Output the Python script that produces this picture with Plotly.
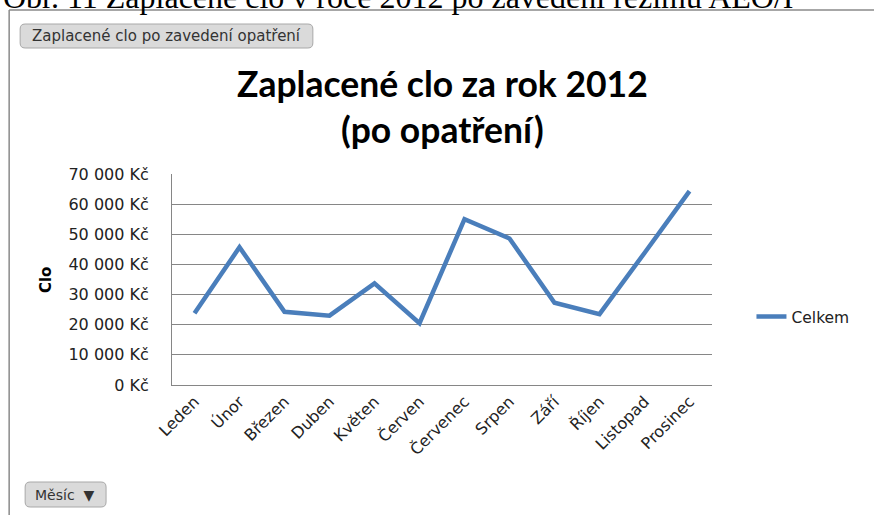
import plotly.graph_objects as go

months = ["Leden", "Únor", "Březen", "Duben", "Květen", "Červen",
          "Červenec", "Srpen", "Září", "Říjen", "Listopad", "Prosinec"]
clo = [23800, 45700, 24300, 23000, 33700, 20500,
       55000, 48600, 27300, 23500, 43800, 64300]
y_tickvals = [0, 10000, 20000, 30000, 40000, 50000, 60000, 70000]
y_ticktext = ["0 Kč", "10 000 Kč", "20 000 Kč", "30 000 Kč",
              "40 000 Kč", "50 000 Kč", "60 000 Kč", "70 000 Kč"]
series_name = "Celkem"
title_text = "Zaplacené clo za rok 2012<br>(po opatření)"
caption_text = "Obr. 11 Zaplacené clo v roce 2012 po zavedení režimu AEO/I"

W, H = 874, 515
L, R, T, B = 172, 712.5, 174, 385


def px(x):
    return (x - L) / (R - L)


def py(y):
    return (B - y) / (B - T)


def rrect(x0, y0, x1, y1, r):
    pts = [
        f"M{px(x0 + r)},{py(y0)}",
        f"L{px(x1 - r)},{py(y0)}",
        f"Q{px(x1)},{py(y0)} {px(x1)},{py(y0 + r)}",
        f"L{px(x1)},{py(y1 - r)}",
        f"Q{px(x1)},{py(y1)} {px(x1 - r)},{py(y1)}",
        f"L{px(x0 + r)},{py(y1)}",
        f"Q{px(x0)},{py(y1)} {px(x0)},{py(y1 - r)}",
        f"L{px(x0)},{py(y0 + r)}",
        f"Q{px(x0)},{py(y0)} {px(x0 + r)},{py(y0)}",
        "Z",
    ]
    return " ".join(pts)


fig = go.Figure()
fig.add_trace(go.Scatter(
    x=months, y=clo, mode="lines", name=series_name,
    line=dict(color="#4A7EBB", width=4.5),
))

font_main = "DejaVu Sans"
font_title = "Lato"

fig.update_layout(
    width=W, height=H,
    margin=dict(l=L, r=W - R, t=T, b=H - B, pad=0),
    paper_bgcolor="white", plot_bgcolor="white",
    showlegend=True,
    legend=dict(x=px(752), y=py(317), xanchor="left", yanchor="middle",
                font=dict(family=font_main, size=15.5, color="#222222"),
                bgcolor="rgba(0,0,0,0)", itemwidth=30),
    xaxis=dict(
        type="category", range=[-0.5, 11.5], tickangle=-45,
        showgrid=False, showline=True, linecolor="#868686", linewidth=1,
        ticks="", tickfont=dict(family=font_main, size=16, color="#222222"),
        fixedrange=True,
    ),
    yaxis=dict(
        range=[0, 70000], tickvals=y_tickvals, ticktext=y_ticktext,
        showgrid=True, gridcolor="#868686", gridwidth=1,
        showline=True, linecolor="#868686", linewidth=1,
        zeroline=False, ticks="", ticklabelstandoff=19,
        tickfont=dict(family=font_main, size=16, color="#222222"),
        fixedrange=True,
    ),
    shapes=[
        dict(type="line", xref="paper", yref="paper",
             x0=px(9), x1=px(9), y0=py(10), y1=py(520),
             line=dict(color="#8a8a8a", width=1.5)),
        dict(type="line", xref="paper", yref="paper",
             x0=px(9), x1=px(880), y0=py(10), y1=py(10),
             line=dict(color="#8a8a8a", width=1.5)),
        dict(type="path", xref="paper", yref="paper",
             path=rrect(20, 24, 313, 48, 5),
             fillcolor="#dadada", line=dict(color="#a8a8a8", width=1)),
        dict(type="path", xref="paper", yref="paper",
             path=rrect(25, 482, 106, 507, 5),
             fillcolor="#dadada", line=dict(color="#a8a8a8", width=1)),
    ],
    annotations=[
        dict(text=title_text, xref="paper", yref="paper",
             x=px(443), y=py(107), xanchor="center", yanchor="middle",
             showarrow=False,
             font=dict(family=font_title, size=35.5, color="#000000",
                       weight="bold")),
        dict(text="Clo", xref="paper", yref="paper",
             x=px(46), y=py(280), xanchor="center", yanchor="middle",
             textangle=-90, showarrow=False,
             font=dict(family=font_main, size=15, color="#000000",
                       weight="bold")),
        dict(text="Zaplacené clo po zavedení opatření", xref="paper",
             yref="paper", x=px(166), y=py(36), xanchor="center",
             yanchor="middle", showarrow=False,
             font=dict(family="DejaVu Sans", size=15, color="#333333")),
        dict(text="Měsíc  ▼", xref="paper", yref="paper",
             x=px(64), y=py(494.5), xanchor="center", yanchor="middle",
             showarrow=False,
             font=dict(family="DejaVu Sans", size=14, color="#333333")),
        dict(text=caption_text, xref="paper", yref="paper",
             x=px(1), y=py(-3.5), xanchor="left", yanchor="middle",
             showarrow=False,
             font=dict(family="Liberation Serif", size=32, color="#000000")),
    ],
)

fig.write_html("out.html", config={"displayModeBar": False})
